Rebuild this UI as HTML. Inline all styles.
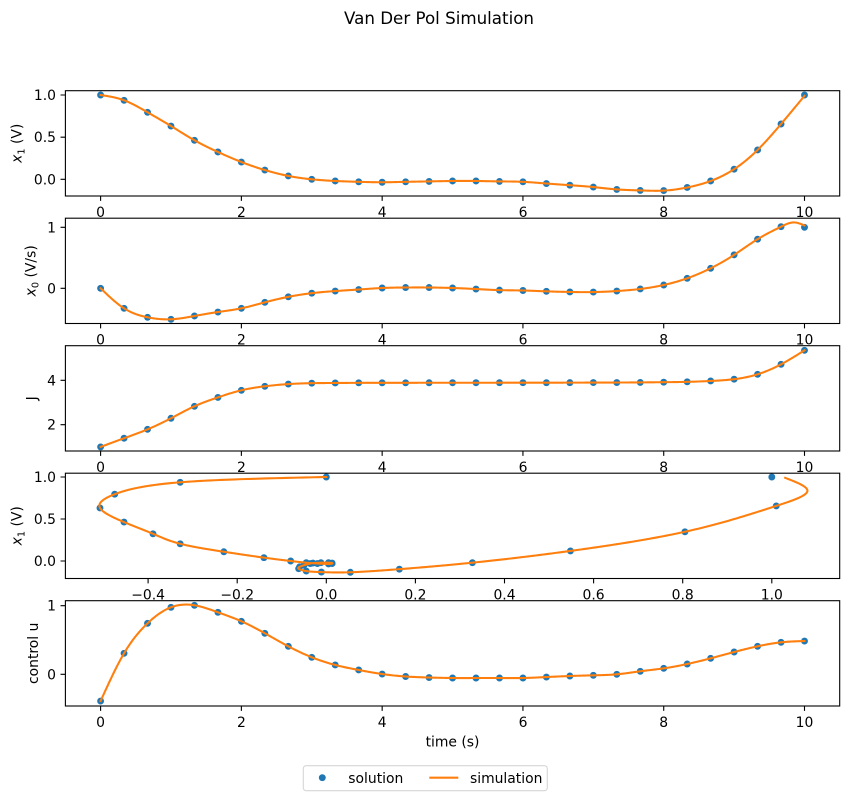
<!DOCTYPE html>
<html><head><meta charset="utf-8"><style>
html,body{margin:0;padding:0;background:#fff;}
svg{display:block;}
text{font-family:"DejaVu Sans","Liberation Sans",sans-serif;font-size:13.9px;fill:#000;}
</style></head><body>
<svg id="s" width="849" height="797" viewBox="0 0 849 797" xmlns="http://www.w3.org/2000/svg">
<rect width="849" height="797" fill="#fff"/>
<text x="439" y="24" text-anchor="middle" style="font-size:16.7px">Van Der Pol Simulation</text>
<g id="data"></g>
<g id="axes" fill="none" stroke="#000" stroke-width="1.1"></g>

<!-- x tick labels: time plots -->
<g text-anchor="middle">
<text x="100.6" y="217">0</text><text x="241.4" y="217">2</text><text x="382.2" y="217">4</text><text x="523.0" y="217">6</text><text x="663.7" y="217">8</text><text x="804.5" y="217">10</text>
<text x="100.6" y="344.5">0</text><text x="241.4" y="344.5">2</text><text x="382.2" y="344.5">4</text><text x="523.0" y="344.5">6</text><text x="663.7" y="344.5">8</text><text x="804.5" y="344.5">10</text>
<text x="100.6" y="472">0</text><text x="241.4" y="472">2</text><text x="382.2" y="472">4</text><text x="523.0" y="472">6</text><text x="663.7" y="472">8</text><text x="804.5" y="472">10</text>
<text x="148.1" y="599.5">−0.4</text><text x="237.2" y="599.5">−0.2</text><text x="326.3" y="599.5">0.0</text><text x="415.4" y="599.5">0.2</text><text x="504.5" y="599.5">0.4</text><text x="593.6" y="599.5">0.6</text><text x="682.7" y="599.5">0.8</text><text x="771.8" y="599.5">1.0</text>
<text x="100.6" y="727">0</text><text x="241.4" y="727">2</text><text x="382.2" y="727">4</text><text x="523.0" y="727">6</text><text x="663.7" y="727">8</text><text x="804.5" y="727">10</text>
<text x="452.5" y="746.5">time (s)</text>
</g>

<!-- y tick labels -->
<g text-anchor="end">
<text x="56" y="100">1.0</text><text x="56" y="142.2">0.5</text><text x="56" y="184.3">0.0</text>
<text x="56" y="232.3">1</text><text x="56" y="293.3">0</text>
<text x="56" y="385.3">4</text><text x="56" y="429.7">2</text>
<text x="56" y="482">1.0</text><text x="56" y="524">0.5</text><text x="56" y="566">0.0</text>
<text x="56" y="610.7">1</text><text x="56" y="679.3">0</text>
</g>

<!-- y labels -->
<g text-anchor="middle">
<text transform="translate(21.5,143.3) rotate(-90)"><tspan font-style="italic">x</tspan><tspan font-size="9.7px" dy="2.8">1</tspan><tspan dy="-2.8"> (V)</tspan></text>
<text transform="translate(35.5,270.8) rotate(-90)"><tspan font-style="italic">x</tspan><tspan font-size="9.7px" dy="2.8">0</tspan><tspan dy="-2.8"> (V/s)</tspan></text>
<text transform="translate(36.5,398.3) rotate(-90)">J</text>
<text transform="translate(21.5,525.8) rotate(-90)"><tspan font-style="italic">x</tspan><tspan font-size="9.7px" dy="2.8">1</tspan><tspan dy="-2.8"> (V)</tspan></text>
<text transform="translate(38,653.3) rotate(-90)">control u</text>
</g>

<!-- legend -->
<rect x="303.3" y="765.7" width="244" height="25" rx="2.8" ry="2.8" fill="#fff" fill-opacity="0.8" stroke="#d6d6d6" stroke-width="1.1"/>
<circle cx="322.3" cy="777.7" r="3.45" fill="#1f77b4"/>
<text x="348.3" y="783">solution</text>
<line x1="429.3" y1="777.7" x2="458.3" y2="777.7" stroke="#ff7f0e" stroke-width="2.08"/>
<text x="470" y="783">simulation</text>
</svg>
<script>
(function(){
const NS="http://www.w3.org/2000/svg";
const gD=document.getElementById('data');
const gA=document.getElementById('axes');
function el(tag,attrs,parent){const e=document.createElementNS(NS,tag);for(const k in attrs)e.setAttribute(k,attrs[k]);(parent||gD).appendChild(e);return e;}
const L=65.4,R=839.7,H=105.3;
const tops=[90.7,218.2,345.7,473.2,600.7];
const tx=t=>100.6+70.39*t;
const px4=v=>326.3+445.5*v;
const ys=[v=>179.3-84.3*v, v=>288.3-61*v, v=>469.1-22.2*v, v=>561-84*v, v=>674.3-68.6*v];

function spline(xs,yv){
 const n=xs.length,h=[],al=[],l=[1],mu=[0],z=[0],c=new Array(n).fill(0),b=[],d=[];
 for(let i=0;i<n-1;i++)h[i]=xs[i+1]-xs[i];
 for(let i=1;i<n-1;i++)al[i]=3/h[i]*(yv[i+1]-yv[i])-3/h[i-1]*(yv[i]-yv[i-1]);
 for(let i=1;i<n-1;i++){l[i]=2*(xs[i+1]-xs[i-1])-h[i-1]*mu[i-1];mu[i]=h[i]/l[i];z[i]=(al[i]-h[i-1]*z[i-1])/l[i];}
 c[n-1]=0;
 for(let j=n-2;j>=0;j--){c[j]=z[j]-mu[j]*c[j+1];b[j]=(yv[j+1]-yv[j])/h[j]-h[j]*(c[j+1]+2*c[j])/3;d[j]=(c[j+1]-c[j])/(3*h[j]);}
 return x=>{let i=0;while(i<n-2&&x>xs[i+1])i++;const dx=x-xs[i];return yv[i]+b[i]*dx+c[i]*dx*dx+d[i]*dx*dx*dx;};
}

const T=[];for(let i=0;i<31;i++)T.push(i/3);
const x1=[1.0,0.937,0.795,0.632,0.463,0.324,0.205,0.11,0.04,0.0,-0.02,-0.03,-0.035,-0.03,-0.025,-0.02,-0.02,-0.025,-0.03,-0.05,-0.07,-0.092,-0.12,-0.132,-0.134,-0.097,-0.02,0.12,0.348,0.656,1.0];
const x0=[0,-0.328,-0.475,-0.508,-0.454,-0.389,-0.328,-0.23,-0.14,-0.08,-0.045,-0.02,0.005,0.013,0.013,0.005,-0.012,-0.03,-0.036,-0.05,-0.06,-0.062,-0.045,-0.011,0.054,0.164,0.328,0.548,0.805,1.01,1.0];
const J=[1.0,1.39,1.79,2.29,2.83,3.23,3.55,3.73,3.83,3.87,3.88,3.885,3.887,3.888,3.889,3.89,3.89,3.891,3.892,3.893,3.895,3.897,3.9,3.905,3.915,3.93,3.97,4.05,4.27,4.72,5.35];
const u=[-0.39,0.306,0.743,0.977,1.006,0.904,0.773,0.598,0.408,0.248,0.136,0.063,0.004,-0.032,-0.047,-0.054,-0.054,-0.054,-0.054,-0.04,-0.025,-0.015,0.0,0.044,0.087,0.15,0.233,0.325,0.408,0.466,0.485];

const x1L=x1.slice();x1L[30]=0.99;
const fx1=spline(T,x1L);
const tx0=T.slice(0,30).concat([9.85,10]);
const vx0=x0.slice(0,30).concat([1.08,1.03]);
const fx0=spline(tx0,vx0);
const fJ=spline(T,J);
const fu=spline(T,u);

const defs=el('defs',{});
tops.forEach((tp,k)=>{const cp=el('clipPath',{id:'c'+k},defs);el('rect',{x:L,y:tp,width:R-L,height:H},cp);});

function pts(xf,yf,N){let s='';for(let i=0;i<=N;i++){const t=10*i/N;s+=(i?'L':'M')+xf(t).toFixed(2)+','+yf(t).toFixed(2);}return s;}
const N=600;
const series=[[x1,fx1],[x0,fx0],[J,fJ],null,[u,fu]];
series.forEach((s,k)=>{
 if(!s)return;
 const g=el('g',{'clip-path':'url(#c'+k+')'});
 for(let i=0;i<31;i++)el('circle',{cx:tx(T[i]).toFixed(2),cy:ys[k](s[0][i]).toFixed(2),r:3.45,fill:'#1f77b4'},g);
 el('path',{d:pts(tx,t=>ys[k](s[1](t)),N),fill:'none',stroke:'#ff7f0e','stroke-width':2.08,'stroke-linejoin':'round','stroke-linecap':'square'},g);
});
{
 const g=el('g',{'clip-path':'url(#c3)'});
 for(let i=0;i<31;i++)el('circle',{cx:px4(x0[i]).toFixed(2),cy:ys[3](x1[i]).toFixed(2),r:3.45,fill:'#1f77b4'},g);
 el('path',{d:pts(t=>px4(fx0(t)),t=>ys[3](fx1(t)),1200),fill:'none',stroke:'#ff7f0e','stroke-width':2.08,'stroke-linejoin':'round','stroke-linecap':'square'},g);
}

const tl=4.86;
const timeTicks=[0,2,4,6,8,10].map(tx);
const phTicks=[-0.4,-0.2,0,0.2,0.4,0.6,0.8,1.0].map(px4);
const yt=[[1,0.5,0],[1,0],[4,2],[1,0.5,0],[1,0]];
tops.forEach((tp,k)=>{
 el('rect',{x:L,y:tp,width:R-L,height:H},gA);
 const b=tp+H;
 const xt=k===3?phTicks:timeTicks;
 let d='';
 xt.forEach(x=>{d+='M'+x.toFixed(2)+','+b+'V'+(b+tl).toFixed(2);});
 yt[k].forEach(v=>{const y=ys[k](v);d+='M'+L+','+y.toFixed(2)+'H'+(L-tl).toFixed(2);});
 el('path',{d:d},gA);
});
})();
</script>
</body></html>
